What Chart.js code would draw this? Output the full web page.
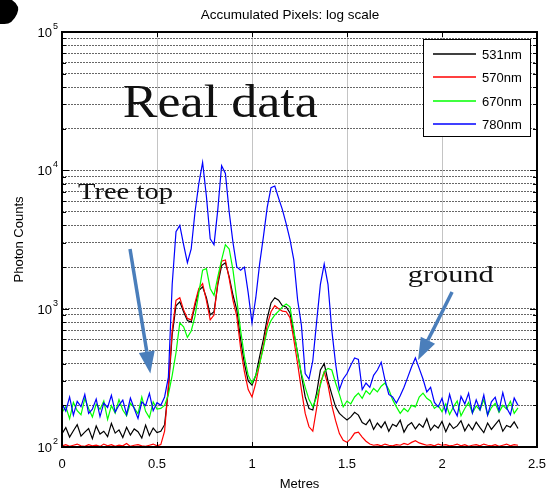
<!DOCTYPE html>
<html>
<head>
<meta charset="utf-8">
<script src="https://cdn.jsdelivr.net/npm/chart.js@4.4.0/dist/chart.umd.min.js"></script>
<style>
  html, body { margin: 0; padding: 0; background: #fff; }
  canvas { display: block; }
</style>
</head>
<body>
<canvas id="photonChart" width="546" height="493"></canvas>
<script>
// Distance along the scan (metres)
const metres = [
  0, 0.02, 0.04, 0.06, 0.08, 0.1, 0.12, 0.14, 0.16, 0.18,
  0.2, 0.22, 0.24, 0.26, 0.28, 0.3, 0.32, 0.34, 0.36, 0.38,
  0.4, 0.42, 0.44, 0.46, 0.48, 0.5, 0.52, 0.54, 0.56, 0.58,
  0.6, 0.62, 0.64, 0.66, 0.68, 0.7, 0.72, 0.74, 0.76, 0.78,
  0.8, 0.82, 0.84, 0.86, 0.88, 0.9, 0.92, 0.94, 0.96, 0.98,
  1, 1.02, 1.04, 1.06, 1.08, 1.1, 1.12, 1.14, 1.16, 1.18,
  1.2, 1.22, 1.24, 1.26, 1.28, 1.3, 1.32, 1.34, 1.36, 1.38,
  1.4, 1.42, 1.44, 1.46, 1.48, 1.5, 1.52, 1.54, 1.56, 1.58,
  1.6, 1.62, 1.64, 1.66, 1.68, 1.7, 1.72, 1.74, 1.76, 1.78,
  1.8, 1.82, 1.84, 1.86, 1.88, 1.9, 1.92, 1.94, 1.96, 1.98,
  2, 2.02, 2.04, 2.06, 2.08, 2.1, 2.12, 2.14, 2.16, 2.18,
  2.2, 2.22, 2.24, 2.26, 2.28, 2.3, 2.32, 2.34, 2.36, 2.38,
  2.4
];

const counts531 = [
  125, 138, 118, 131, 145, 120, 128, 136, 115, 142,
  124, 130, 119, 148, 126, 133, 117, 139, 122, 135,
  129, 116, 144, 121, 137, 127, 130, 145, 260, 650,
  1050, 1120, 950, 820, 800, 1050, 1350, 1440, 1200, 900,
  950, 1500, 2050, 2150, 1700, 1250, 980, 600, 400, 300,
  280, 330, 450, 600, 850, 1100, 1200, 1150, 1050, 1030,
  930, 670, 480, 330, 230, 190, 185, 245, 360, 400,
  300, 240, 195, 175, 165, 157, 165, 178, 170, 150,
  145, 158, 134, 149, 138, 152, 130, 146, 141, 156,
  128, 143, 150, 135, 147, 139, 160, 132, 144, 137,
  153, 129, 148, 136, 142, 155, 131, 146, 133, 151,
  138, 127, 149, 134, 145, 157, 130, 143, 139, 152,
  136
];

const counts570 = [
  102, 104, 101, 103, 105, 102, 101, 104, 102, 103,
  101, 105, 102, 104, 101, 103, 102, 106, 101, 103,
  104, 102, 101, 103, 105, 102, 104, 130, 280, 700,
  1150, 1200, 980, 850, 830, 1100, 1400, 1520, 1150, 830,
  900, 1550, 2200, 2250, 1650, 1150, 880, 520, 350, 260,
  230, 290, 400, 540, 760, 950, 1050, 1000, 960, 950,
  860, 600, 400, 260, 175, 140, 130, 190, 290, 350,
  280, 200, 155, 125, 112, 108, 115, 126, 128, 118,
  110, 105, 103, 104, 102, 105, 103, 102, 104, 103,
  106, 104, 108, 111, 107, 105, 103, 104, 102, 105,
  103, 104, 102, 103, 105, 102, 104, 101, 103, 104,
  102, 105, 103, 102, 104, 101, 103, 105, 102, 104,
  103
];

const counts670 = [
  178, 196, 160, 210, 183, 171, 225, 190, 165, 204,
  187, 215, 158, 199, 176, 220, 185, 168, 207, 192,
  174, 230, 181, 163, 212, 188, 190, 200, 240, 330,
  480, 790, 740, 620, 690, 880, 1300, 1900, 1950, 1400,
  1250, 1700, 2250, 2900, 2700, 1900, 1160, 700, 450, 330,
  290, 330, 400, 520, 700, 820, 900, 960, 1030, 1080,
  1030, 700, 470, 340, 270, 220, 195, 230, 280, 350,
  370, 360, 290, 240, 195, 215, 205, 230, 245, 225,
  255, 240, 265, 250, 275, 290, 260, 220, 195, 175,
  190, 180, 200, 195, 230, 245, 225, 215, 190, 200,
  180, 205, 172, 195, 215, 168, 190, 210, 176, 198,
  185, 220, 170, 193, 207, 178, 200, 188, 214, 175,
  192
];

const counts780 = [
  205, 182, 230, 170, 214, 196, 240, 175, 188, 222,
  166, 208, 193, 236, 179, 201, 218, 172, 226, 190,
  161, 212, 199, 244, 183, 209, 200, 230, 320, 1500,
  3600, 4000, 2900, 2150, 2700, 5000, 8000, 11400, 6500, 3200,
  2900, 5200, 10800, 9500, 5000, 3000, 2000, 1900, 2000, 1300,
  790, 1200, 2100, 3300, 5400, 7500, 7700, 6300, 5200, 4100,
  3150, 2250, 1160, 760, 340, 310, 420, 800, 1500, 2100,
  1500, 700, 400, 260, 310, 340, 390, 440, 430, 260,
  290, 270, 330, 360, 410, 305, 240, 230, 208, 235,
  270, 320, 380, 440, 370, 310, 250, 270, 210, 195,
  225, 178, 240, 190, 168, 232, 205, 245, 176, 219,
  186, 238, 170, 212, 229, 183, 247, 192, 171, 226,
  200
];

const seriesNames = ['531nm', '570nm', '670nm', '780nm'];
const seriesColors = ['#000000', '#ff0000', '#00ff00', '#0000ff'];
const seriesValues = [counts531, counts570, counts670, counts780];

const xTicks = [0, 0.5, 1, 1.5, 2, 2.5];
const yDecades = [100, 1000, 10000, 100000];
const yGridLines = [
  100, 200, 300, 400, 500, 600, 700, 800, 900,
  1000, 2000, 3000, 4000, 5000, 6000, 7000, 8000, 9000,
  10000, 20000, 30000, 40000, 50000, 60000, 70000, 80000, 90000,
  100000
];

const SANS = '"Liberation Sans", Arial, sans-serif';
const SERIF = '"Liberation Serif", "Times New Roman", serif';

// Text that is stretched to a fixed width (the original used Palatino)
function fitText(ctx, text, x, y, width) {
  const w = ctx.measureText(text).width;
  ctx.save();
  ctx.translate(x, y);
  ctx.scale(width / w, 1);
  ctx.fillText(text, 0, 0);
  ctx.restore();
}

function drawArrow(ctx, x0, y0, x1, y1) {
  const ang = Math.atan2(y1 - y0, x1 - x0);
  const head = 22, half = 8;
  const bx = x1 - head * Math.cos(ang), by = y1 - head * Math.sin(ang);
  ctx.save();
  ctx.strokeStyle = '#4a7ebb';
  ctx.fillStyle = '#4a7ebb';
  ctx.lineWidth = 3.5;
  ctx.beginPath();
  ctx.moveTo(x0, y0);
  ctx.lineTo(bx, by);
  ctx.stroke();
  ctx.beginPath();
  ctx.moveTo(x1, y1);
  ctx.lineTo(bx + half * Math.sin(ang), by - half * Math.cos(ang));
  ctx.lineTo(bx - half * Math.sin(ang), by + half * Math.cos(ang));
  ctx.closePath();
  ctx.fill();
  ctx.restore();
}

const matlabFrame = {
  id: 'matlabFrame',
  afterDraw(chart) {
    const { ctx, chartArea: a, scales: { x, y } } = chart;
    ctx.save();

    // axes box
    ctx.strokeStyle = '#000';
    ctx.lineWidth = 2;
    ctx.strokeRect(a.left, a.top, a.right - a.left, a.bottom - a.top);

    // inward tick marks
    ctx.lineWidth = 1;
    ctx.beginPath();
    yGridLines.forEach(v => {
      const py = Math.round(y.getPixelForValue(v)) + 0.5;
      const len = yDecades.includes(v) ? 7 : 4;
      ctx.moveTo(a.left, py); ctx.lineTo(a.left + len, py);
      ctx.moveTo(a.right, py); ctx.lineTo(a.right - len, py);
    });
    xTicks.forEach(v => {
      const px = Math.round(x.getPixelForValue(v)) + 0.5;
      ctx.moveTo(px, a.bottom); ctx.lineTo(px, a.bottom - 5);
      ctx.moveTo(px, a.top); ctx.lineTo(px, a.top + 5);
    });
    ctx.stroke();

    // tick labels
    ctx.fillStyle = '#000';
    ctx.textBaseline = 'alphabetic';
    ctx.font = '13px ' + SANS;
    ctx.textAlign = 'center';
    xTicks.forEach(v => {
      ctx.fillText(String(v), x.getPixelForValue(v), a.bottom + 21);
    });
    yDecades.forEach(v => {
      const py = y.getPixelForValue(v);
      ctx.font = '13px ' + SANS;
      ctx.textAlign = 'right';
      ctx.fillText('10', a.left - 10, py + 5);
      ctx.font = '9px ' + SANS;
      ctx.textAlign = 'left';
      ctx.fillText(String(Math.round(Math.log10(v))), a.left - 9, py - 3);
    });

    // titles
    ctx.textAlign = 'center';
    ctx.font = '13.5px ' + SANS;
    ctx.fillText('Accumulated Pixels: log scale', 290, 19);
    ctx.font = '13px ' + SANS;
    ctx.fillText('Metres', (a.left + a.right) / 2, 488);
    ctx.save();
    ctx.translate(23, (a.top + a.bottom) / 2);
    ctx.rotate(-Math.PI / 2);
    ctx.fillText('Photon Counts', 0, 0);
    ctx.restore();

    // legend box
    const lw = 107, lh = 97;
    const lx = a.right - 7 - lw, ly = a.top + 7;
    ctx.fillStyle = '#fff';
    ctx.fillRect(lx, ly, lw, lh);
    ctx.strokeStyle = '#000';
    ctx.lineWidth = 1;
    ctx.strokeRect(Math.round(lx) + 0.5, Math.round(ly) + 0.5, lw, lh);
    ctx.font = '13px ' + SANS;
    ctx.textAlign = 'left';
    ctx.textBaseline = 'middle';
    seriesNames.forEach((name, i) => {
      const ry = Math.round(ly + 15 + i * 23.3);
      ctx.strokeStyle = seriesColors[i];
      ctx.lineWidth = 1.5;
      ctx.beginPath();
      ctx.moveTo(lx + 10, ry);
      ctx.lineTo(lx + 53, ry);
      ctx.stroke();
      ctx.fillStyle = '#000';
      ctx.fillText(name, lx + 59, ry + 1);
    });

    // annotations
    ctx.textBaseline = 'alphabetic';
    ctx.fillStyle = '#111';
    ctx.font = '46px ' + SERIF;
    fitText(ctx, 'Real data', x.getPixelForValue(0.32), y.getPixelForValue(24300), 195);
    ctx.font = '24px ' + SERIF;
    fitText(ctx, 'Tree top', x.getPixelForValue(0.084), y.getPixelForValue(6210), 95);
    fitText(ctx, 'ground', x.getPixelForValue(1.82), y.getPixelForValue(1560), 86);

    drawArrow(ctx,
      x.getPixelForValue(0.358), y.getPixelForValue(2700),
      x.getPixelForValue(0.465), y.getPixelForValue(340));
    drawArrow(ctx,
      x.getPixelForValue(2.053), y.getPixelForValue(1320),
      x.getPixelForValue(1.874), y.getPixelForValue(426));

    // stray blot in the top-left corner of the scan
    ctx.fillStyle = '#000';
    ctx.beginPath();
    ctx.moveTo(0, 0);
    ctx.lineTo(12, 0);
    ctx.quadraticCurveTo(21, 6, 17, 14);
    ctx.quadraticCurveTo(12, 25, 3, 24);
    ctx.lineTo(0, 24);
    ctx.closePath();
    ctx.fill();

    ctx.restore();
  }
};

const datasets = seriesNames.map((name, i) => ({
  label: name,
  data: metres.map((m, j) => ({ x: m, y: seriesValues[i][j] })),
  borderColor: seriesColors[i],
  borderWidth: 1.2,
  pointRadius: 0,
  tension: 0,
  fill: false,
  order: seriesNames.length - i
}));

new Chart(document.getElementById('photonChart').getContext('2d'), {
  type: 'line',
  data: { datasets },
  options: {
    responsive: false,
    animation: false,
    devicePixelRatio: 1,
    layout: { padding: { left: 62, top: 32, right: 9, bottom: 46 } },
    plugins: {
      legend: { display: false },
      tooltip: { enabled: false },
      title: { display: false }
    },
    scales: {
      x: {
        type: 'linear',
        min: 0,
        max: 2.5,
        afterBuildTicks: axis => { axis.ticks = xTicks.map(v => ({ value: v })); },
        ticks: { display: false },
        grid: { color: '#c4c4c4', lineWidth: 1, drawTicks: false },
        border: { display: false }
      },
      y: {
        type: 'logarithmic',
        min: 100,
        max: 100000,
        afterBuildTicks: axis => { axis.ticks = yGridLines.map(v => ({ value: v })); },
        ticks: { display: false },
        grid: { color: '#666666', lineWidth: 1, drawTicks: false },
        border: { display: false, dash: [2, 1] }
      }
    }
  },
  plugins: [matlabFrame]
});
</script>
</body>
</html>
